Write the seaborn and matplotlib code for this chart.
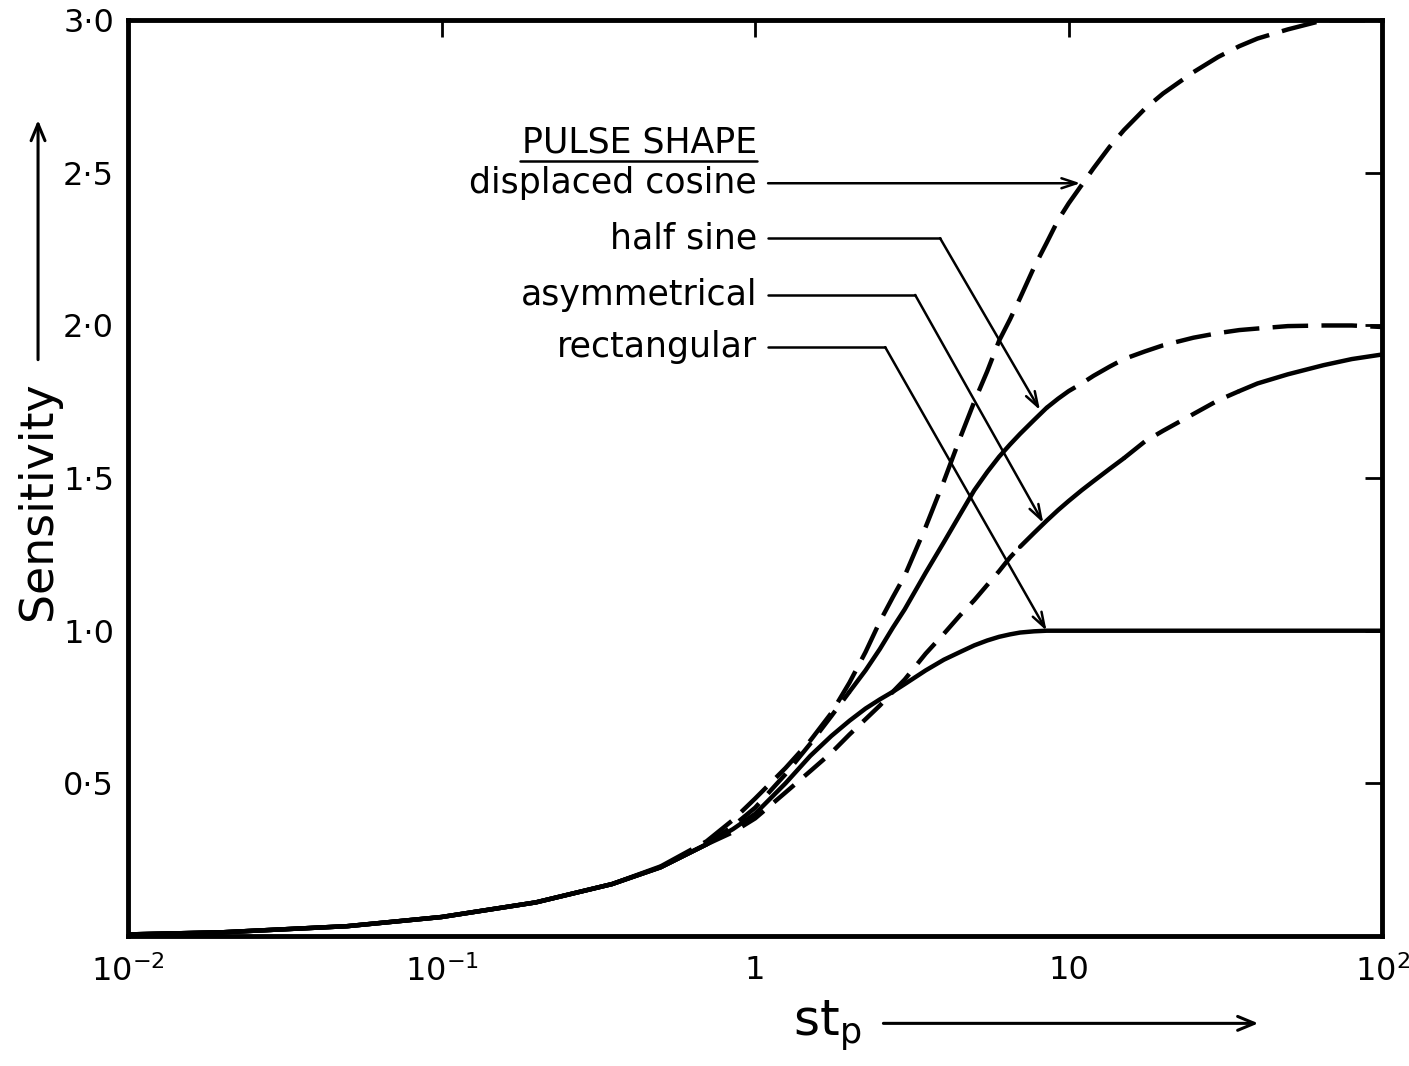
import numpy as np
import pandas as pd
import matplotlib
matplotlib.use('Agg')
import matplotlib.pyplot as plt
import seaborn as sns

# ---------------- data ----------------
st_p = [0.01, 0.02, 0.05, 0.1, 0.2, 0.35, 0.5, 0.7, 0.85, 1.0, 1.25, 1.5,
        1.75, 2.0, 2.25, 2.5, 2.75, 3.0, 3.5, 4.0, 4.5, 5.0, 5.5, 6.0, 6.5,
        7.0, 7.75, 8.5, 9.25, 10, 11, 12, 13.5, 15, 17.5, 20, 25, 30, 35,
        40, 50, 65, 80, 100]

rectangular = [0.005, 0.012, 0.032, 0.062, 0.11, 0.17, 0.225, 0.30, 0.35,
               0.40, 0.50, 0.59, 0.655, 0.705, 0.745, 0.775, 0.80, 0.825,
               0.87, 0.905, 0.93, 0.952, 0.968, 0.98, 0.988, 0.994, 0.998,
               1.0, 1.0, 1.0, 1.0, 1.0, 1.0, 1.0, 1.0, 1.0, 1.0, 1.0, 1.0,
               1.0, 1.0, 1.0, 1.0, 1.0]

asymmetrical = [0.005, 0.012, 0.032, 0.062, 0.11, 0.17, 0.225, 0.30, 0.34,
                0.385, 0.47, 0.54, 0.60, 0.66, 0.71, 0.755, 0.80, 0.84,
                0.925, 0.99, 1.05, 1.10, 1.15, 1.195, 1.24, 1.275, 1.32,
                1.36, 1.395, 1.425, 1.46, 1.49, 1.53, 1.565, 1.62, 1.655,
                1.71, 1.755, 1.785, 1.81, 1.84, 1.87, 1.89, 1.905]

half_sine = [0.005, 0.012, 0.032, 0.062, 0.11, 0.17, 0.225, 0.30, 0.36,
             0.42, 0.53, 0.63, 0.72, 0.80, 0.87, 0.94, 1.01, 1.07, 1.19,
             1.29, 1.38, 1.46, 1.52, 1.57, 1.61, 1.645, 1.69, 1.73, 1.76,
             1.785, 1.81, 1.835, 1.865, 1.89, 1.915, 1.935, 1.96, 1.975,
             1.985, 1.99, 1.998, 2.0, 2.0, 1.995]

displaced_cosine = [0.005, 0.012, 0.032, 0.062, 0.11, 0.17, 0.228, 0.31,
                    0.38, 0.45, 0.55, 0.64, 0.73, 0.83, 0.93, 1.03, 1.11,
                    1.18, 1.34, 1.49, 1.63, 1.75, 1.85, 1.95, 2.02, 2.09,
                    2.19, 2.27, 2.345, 2.40, 2.46, 2.515, 2.585, 2.64, 2.71,
                    2.76, 2.83, 2.88, 2.915, 2.94, 2.97, 3.0, 3.0, 3.0]

y_ticks = [0.5, 1.0, 1.5, 2.0, 2.5, 3.0]
y_tick_labels = ['0·5', '1·0', '1·5', '2·0', '2·5', '3·0']
x_ticks = [0.01, 0.1, 1, 10, 100]
x_tick_labels = ['$10^{-2}$', '$10^{-1}$', '1', '10', '$10^{2}$']

# ---------------- styles ----------------
LS = {
    'solid': '-',
    'dash_s': (0, (6, 3)),
    'dash': (0, (6, 3)),
    'dash_l': (0, (8, 3)),
}
segments = {
    'rectangular': [(0.01, 100, 'solid')],
    'asymmetrical': [(0.01, 0.7, 'solid'), (0.7, 7, 'dash_s'), (7, 15, 'solid'),
                     (15, 35, 'dash_s'), (35, 100, 'solid')],
    'half sine': [(0.01, 0.7, 'solid'), (0.7, 2.0, 'dash'), (2.0, 8.5, 'solid'),
                  (8.5, 100, 'dash_l')],
    'displaced cosine': [(0.01, 0.5, 'solid'), (0.5, 100, 'dash_l')],
}

df = pd.concat([
    pd.DataFrame({'st_p': st_p, 'S': rectangular, 'shape': 'rectangular'}),
    pd.DataFrame({'st_p': st_p, 'S': asymmetrical, 'shape': 'asymmetrical'}),
    pd.DataFrame({'st_p': st_p, 'S': half_sine, 'shape': 'half sine'}),
    pd.DataFrame({'st_p': st_p, 'S': displaced_cosine, 'shape': 'displaced cosine'}),
], ignore_index=True)

sns.set_theme(style='white')
plt.rcParams['font.family'] = ['DejaVu Sans']
plt.rcParams['mathtext.fontset'] = 'dejavusans'

fig = plt.figure(figsize=(14.09, 10.66), dpi=100)
ax = fig.add_axes([0.0908, 0.122, 0.8902, 0.859])

LW = 3.2
for name, segs in segments.items():
    sub = df[df['shape'] == name]
    for a, b, st in segs:
        s = sub[(sub['st_p'] >= a) & (sub['st_p'] <= b)]
        sns.lineplot(data=s, x='st_p', y='S', ax=ax, color='black',
                     linewidth=LW, linestyle=LS[st], estimator=None,
                     sort=True, legend=False)

ax.set_xscale('log')
ax.set_xlim(0.01, 100)
ax.set_ylim(0, 3.0)
ax.set_xticks(x_ticks)
ax.set_xticklabels(x_tick_labels)
ax.minorticks_off()
ax.set_yticks(y_ticks)
ax.set_yticklabels(y_tick_labels)
ax.set_xlabel('')
ax.set_ylabel('')
ax.tick_params(axis='both', which='major', direction='in', length=12,
               width=2, colors='black', labelsize=23, top=True, right=True,
               labeltop=False, labelright=False)
ax.tick_params(axis='x', pad=14)
ax.tick_params(axis='y', pad=10)
for sp in ax.spines.values():
    sp.set_visible(True)
    sp.set_color('black')
    sp.set_linewidth(3.5)

# ---------------- legend-style annotations ----------------
TXT_X = 1.015
LINE_X0 = 1.10
fs = 25
ann = [
    ('displaced cosine', 2.466, None, (10.9, 2.466)),
    ('half sine', 2.286, 3.89, (8.1, 1.723)),
    ('asymmetrical', 2.10, 3.24, (8.3, 1.353)),
    ('rectangular', 1.929, 2.60, (8.5, 1.0)),
]
arrow_kw = dict(arrowstyle='->,head_length=0.9,head_width=0.3', lw=1.8,
                color='black', shrinkA=0, shrinkB=0)
for label, yy, xbend, tip in ann:
    ax.text(TXT_X, yy, label, ha='right', va='center', fontsize=fs,
            color='black')
    if xbend is None:
        ax.annotate('', xy=tip, xytext=(LINE_X0, yy), arrowprops=arrow_kw)
    else:
        ax.plot([LINE_X0, xbend], [yy, yy], color='black', lw=1.8)
        ax.annotate('', xy=tip, xytext=(xbend, yy), arrowprops=arrow_kw)

ax.text(TXT_X, 2.60, 'PULSE SHAPE', ha='right', va='center', fontsize=fs,
        color='black')
ax.plot([0.178, TXT_X], [2.54, 2.54], color='black', lw=1.8)

# ---------------- axis labels with arrows ----------------
fig.text(0.027, 0.53, 'Sensitivity', rotation=90, ha='center', va='center',
         fontsize=33, color='black')
fig.add_artist(matplotlib.patches.FancyArrowPatch(
    (0.027, 0.66), (0.027, 0.89), transform=fig.transFigure,
    arrowstyle='->,head_length=12,head_width=5', lw=2.2, color='black'))

fig.text(0.587, 0.038, r'st$_{\mathregular{p}}$', ha='center', va='center',
         fontsize=36, color='black')
fig.add_artist(matplotlib.patches.FancyArrowPatch(
    (0.625, 0.04), (0.895, 0.04), transform=fig.transFigure,
    arrowstyle='->,head_length=12,head_width=5', lw=2.2, color='black'))

fig.savefig('out.png', dpi=100, facecolor='white')
